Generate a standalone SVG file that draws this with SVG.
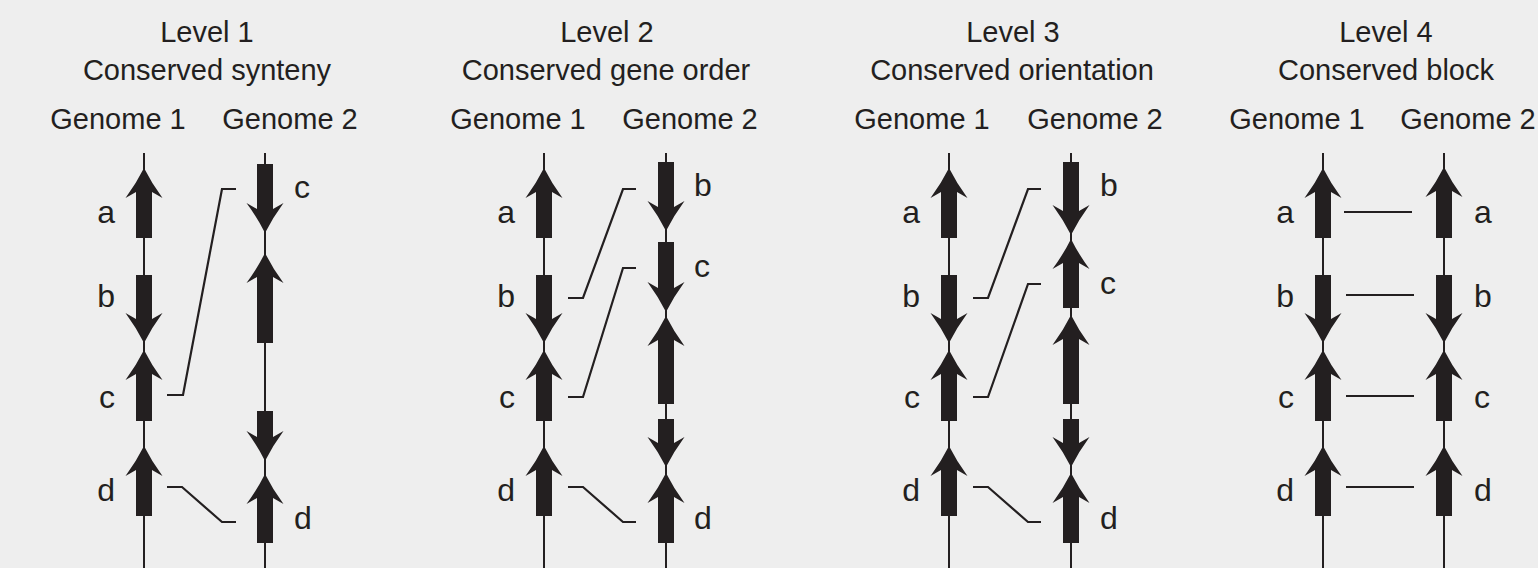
<svg xmlns="http://www.w3.org/2000/svg" xmlns:xlink="http://www.w3.org/1999/xlink" width="1538" height="568" viewBox="0 0 1538 568">
<style>
text{font-family:"Liberation Sans",Arial,sans-serif;fill:#231f20}
.t{font-size:29px;text-anchor:middle}
.l{font-size:32px}
.e{text-anchor:end}
.gl{stroke:#231f20;stroke-width:2;fill:none}
.cn{stroke:#231f20;stroke-width:2.2;fill:none}
.sh{fill:#231f20}
</style>
<defs>
<path id="hu" fill="#231f20" d="M0,0 Q7.5,15 18.5,30 L8,24 L8,32 L-8,32 L-8,24 L-18.5,30 Q-7.5,15 0,0Z"/>
<path id="hd" fill="#231f20" d="M0,0 Q7.5,-15 18.5,-30 L8,-24 L8,-32 L-8,-32 L-8,-24 L-18.5,-30 Q-7.5,-15 0,0Z"/>
</defs>
<rect width="1538" height="568" fill="#eeeeee"/>

<!-- Panel 1 -->
<g id="panel1-title">
<text class="t" x="207" y="42">Level 1</text>
<text class="t" x="207" y="80">Conserved synteny</text>
<text class="t" x="118" y="129">Genome 1</text>
<text class="t" x="290" y="129">Genome 2</text>
</g>
<g id="p1-genome1">
<line class="gl" x1="144" y1="153" x2="144" y2="568"/>
<use href="#hu" x="144" y="168"/><rect class="sh" x="136" y="194" width="16" height="44"/>
<rect class="sh" x="136" y="275" width="16" height="43"/><use href="#hd" x="144" y="343"/>
<use href="#hu" x="144" y="350"/><rect class="sh" x="136" y="376" width="16" height="45"/>
<use href="#hu" x="144" y="446"/><rect class="sh" x="136" y="472" width="16" height="44"/>
<text class="l e" x="115" y="223">a</text>
<text class="l e" x="115" y="307">b</text>
<text class="l e" x="115" y="408">c</text>
<text class="l e" x="115" y="501">d</text>
</g>
<g id="p1-genome2">
<line class="gl" x1="265" y1="153" x2="265" y2="568"/>
<rect class="sh" x="257" y="164" width="16" height="45"/><use href="#hd" x="265" y="233"/>
<use href="#hu" x="265" y="253"/><rect class="sh" x="257" y="279" width="16" height="64"/>
<rect class="sh" x="257" y="411" width="16" height="25"/><use href="#hd" x="265" y="461"/>
<use href="#hu" x="265" y="474"/><rect class="sh" x="257" y="500" width="16" height="43"/>
<text class="l" x="294" y="198">c</text>
<text class="l" x="294" y="529">d</text>
</g>

<!-- Panel 2 -->
<g id="panel2-title">
<text class="t" x="607" y="42">Level 2</text>
<text class="t" x="606" y="80">Conserved gene order</text>
<text class="t" x="518" y="129">Genome 1</text>
<text class="t" x="690" y="129">Genome 2</text>
</g>
<g id="p2-genome1">
<line class="gl" x1="544" y1="153" x2="544" y2="568"/>
<use href="#hu" x="544" y="168"/><rect class="sh" x="536" y="194" width="16" height="44"/>
<rect class="sh" x="536" y="275" width="16" height="43"/><use href="#hd" x="544" y="343"/>
<use href="#hu" x="544" y="350"/><rect class="sh" x="536" y="376" width="16" height="45"/>
<use href="#hu" x="544" y="446"/><rect class="sh" x="536" y="472" width="16" height="44"/>
<text class="l e" x="515" y="223">a</text>
<text class="l e" x="515" y="307">b</text>
<text class="l e" x="515" y="408">c</text>
<text class="l e" x="515" y="501">d</text>
</g>
<g id="p2-genome2">
<line class="gl" x1="666" y1="153" x2="666" y2="568"/>
<rect class="sh" x="658" y="162" width="16" height="45"/><use href="#hd" x="666" y="231"/>
<rect class="sh" x="658" y="242" width="16" height="45"/><use href="#hd" x="666" y="312"/>
<use href="#hu" x="666" y="316"/><rect class="sh" x="658" y="342" width="16" height="62"/>
<rect class="sh" x="658" y="419" width="16" height="25"/><use href="#hd" x="666" y="467"/>
<use href="#hu" x="666" y="473"/><rect class="sh" x="658" y="499" width="16" height="44"/>
<text class="l" x="694" y="196">b</text>
<text class="l" x="694" y="277">c</text>
<text class="l" x="694" y="529">d</text>
</g>

<!-- Panel 3 -->
<g id="panel3-title">
<text class="t" x="1013" y="42">Level 3</text>
<text class="t" x="1012" y="80">Conserved orientation</text>
<text class="t" x="922" y="129">Genome 1</text>
<text class="t" x="1095" y="129">Genome 2</text>
</g>
<g id="p3-genome1">
<line class="gl" x1="949" y1="153" x2="949" y2="568"/>
<use href="#hu" x="949" y="168"/><rect class="sh" x="941" y="194" width="16" height="44"/>
<rect class="sh" x="941" y="275" width="16" height="43"/><use href="#hd" x="949" y="343"/>
<use href="#hu" x="949" y="350"/><rect class="sh" x="941" y="376" width="16" height="45"/>
<use href="#hu" x="949" y="446"/><rect class="sh" x="941" y="472" width="16" height="44"/>
<text class="l e" x="920" y="223">a</text>
<text class="l e" x="920" y="307">b</text>
<text class="l e" x="920" y="408">c</text>
<text class="l e" x="920" y="501">d</text>
</g>
<g id="p3-genome2">
<line class="gl" x1="1071" y1="153" x2="1071" y2="568"/>
<rect class="sh" x="1063" y="162" width="16" height="49"/><use href="#hd" x="1071" y="235"/>
<use href="#hu" x="1071" y="239"/><rect class="sh" x="1063" y="265" width="16" height="43"/>
<use href="#hu" x="1071" y="315"/><rect class="sh" x="1063" y="341" width="16" height="63"/>
<rect class="sh" x="1063" y="419" width="16" height="25"/><use href="#hd" x="1071" y="467"/>
<use href="#hu" x="1071" y="473"/><rect class="sh" x="1063" y="499" width="16" height="44"/>
<text class="l" x="1100" y="196">b</text>
<text class="l" x="1100" y="294">c</text>
<text class="l" x="1100" y="529">d</text>
</g>

<!-- Panel 4 -->
<g id="panel4-title">
<text class="t" x="1386" y="42">Level 4</text>
<text class="t" x="1386" y="80">Conserved block</text>
<text class="t" x="1297" y="129">Genome 1</text>
<text class="t" x="1468" y="129">Genome 2</text>
</g>
<g id="p4-genome1">
<line class="gl" x1="1323" y1="153" x2="1323" y2="568"/>
<use href="#hu" x="1323" y="168"/><rect class="sh" x="1315" y="194" width="16" height="44"/>
<rect class="sh" x="1315" y="275" width="16" height="43"/><use href="#hd" x="1323" y="343"/>
<use href="#hu" x="1323" y="350"/><rect class="sh" x="1315" y="376" width="16" height="45"/>
<use href="#hu" x="1323" y="446"/><rect class="sh" x="1315" y="472" width="16" height="44"/>
<text class="l e" x="1294" y="223">a</text>
<text class="l e" x="1294" y="307">b</text>
<text class="l e" x="1294" y="408">c</text>
<text class="l e" x="1294" y="501">d</text>
</g>
<g id="p4-genome2">
<line class="gl" x1="1444" y1="153" x2="1444" y2="568"/>
<use href="#hu" x="1444" y="167"/><rect class="sh" x="1436" y="193" width="16" height="45"/>
<rect class="sh" x="1436" y="275" width="16" height="43"/><use href="#hd" x="1444" y="343"/>
<use href="#hu" x="1444" y="350"/><rect class="sh" x="1436" y="376" width="16" height="45"/>
<use href="#hu" x="1444" y="446"/><rect class="sh" x="1436" y="472" width="16" height="44"/>
<text class="l" x="1474" y="223">a</text>
<text class="l" x="1474" y="307">b</text>
<text class="l" x="1474" y="408">c</text>
<text class="l" x="1474" y="501">d</text>
</g>

<g id="connectors">
<path class="cn" d="M167,395 H183 L222,189 H236"/>
<path class="cn" d="M167,487 H182 L222,522 H236"/>
<path class="cn" d="M568,298 H583 L623,189 H636"/>
<path class="cn" d="M568,397 H583 L623,268 H636"/>
<path class="cn" d="M568,487 H583 L623,522 H636"/>
<path class="cn" d="M973,298 H988 L1028,189 H1041"/>
<path class="cn" d="M973,397 H988 L1028,284 H1041"/>
<path class="cn" d="M973,487 H988 L1028,522 H1041"/>
<path class="cn" d="M1344,212 H1412"/>
<path class="cn" d="M1346,295 H1414"/>
<path class="cn" d="M1346,396 H1414"/>
<path class="cn" d="M1346,487 H1414"/>
</g>
</svg>
